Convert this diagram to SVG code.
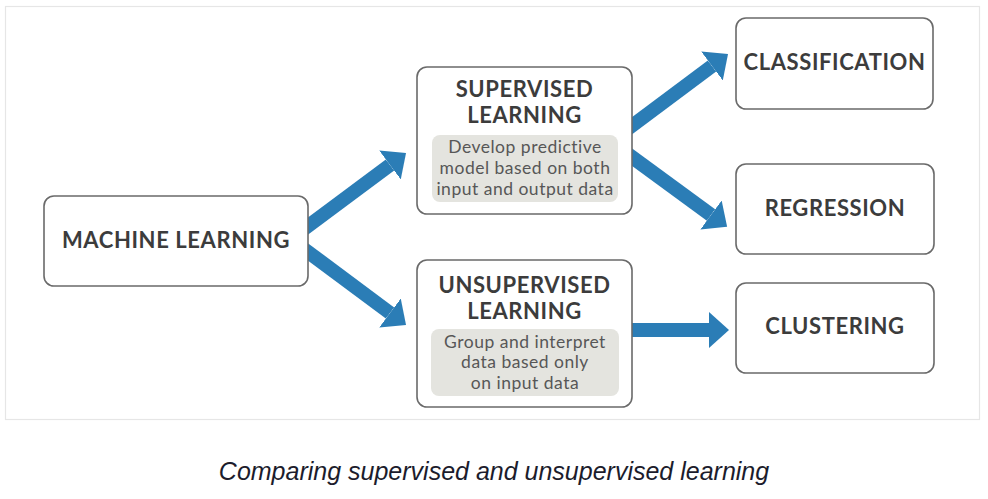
<svg xmlns="http://www.w3.org/2000/svg" width="988" height="499" viewBox="0 0 988 499">
  <defs>
    <marker id="ah" markerUnits="userSpaceOnUse" markerWidth="22" markerHeight="38" viewBox="0 -19 22 38" refX="0" refY="0" orient="auto">
      <path d="M0,-18 L20,0 L0,18 Z" fill="#2b7db6"/>
    </marker>
    <style>
      .box { fill: #ffffff; stroke: #6a6a6a; stroke-width: 1.6; }
      .sub { fill: #e4e4df; stroke: none; }
      .title { font-family: "Lato", "Liberation Sans", sans-serif; font-weight: 700; font-size: 22px; letter-spacing: 0.6px; fill: #3c3c3c; text-anchor: middle; }
      .desc { font-family: "Lato", "Liberation Sans", sans-serif; font-size: 17.5px; letter-spacing: 0.5px; fill: #575757; text-anchor: middle; }
      .conn { stroke: #2b7db6; stroke-width: 14; fill: none; marker-end: url(#ah); }
      .cap { font-family: "Liberation Sans", "Arial", sans-serif; font-style: italic; font-size: 25px; fill: #1c1c2c; text-anchor: middle; }
    </style>
  </defs>
  <rect x="0" y="0" width="988" height="499" fill="#ffffff"/>
  <rect x="5.5" y="6.5" width="974" height="413" fill="#ffffff" stroke="#e6e6e6" stroke-width="1.2"/>

  <g id="connectors">
    <line class="conn" x1="300" y1="232" x2="390" y2="165"/>
    <line class="conn" x1="300" y1="246" x2="390" y2="313"/>
    <line class="conn" x1="625" y1="131" x2="712" y2="66"/>
    <line class="conn" x1="625" y1="152" x2="711" y2="215"/>
    <line class="conn" x1="625" y1="330" x2="709" y2="330"/>
  </g>

  <g id="machine-learning">
    <rect class="box" x="44" y="196" width="264" height="90" rx="10"/>
    <text class="title" x="176" y="248">MACHINE LEARNING</text>
  </g>

  <g id="supervised">
    <rect class="box" x="417" y="67" width="215" height="147" rx="10"/>
    <text class="title" x="524.5" y="97">SUPERVISED</text>
    <text class="title" x="524.5" y="123">LEARNING</text>
    <rect class="sub" x="432" y="135" width="186" height="67" rx="8"/>
    <text class="desc" x="525" y="153">Develop predictive</text>
    <text class="desc" x="525" y="174">model based on both</text>
    <text class="desc" x="525" y="195">input and output data</text>
  </g>

  <g id="unsupervised">
    <rect class="box" x="417" y="260" width="215" height="147" rx="10"/>
    <text class="title" x="524.5" y="293">UNSUPERVISED</text>
    <text class="title" x="524.5" y="319">LEARNING</text>
    <rect class="sub" x="431" y="329" width="188" height="67" rx="8"/>
    <text class="desc" x="525" y="348">Group and interpret</text>
    <text class="desc" x="525" y="368">data based only</text>
    <text class="desc" x="525" y="389">on input data</text>
  </g>

  <g id="classification">
    <rect class="box" x="736" y="18" width="197" height="91" rx="10"/>
    <text class="title" x="834.5" y="70">CLASSIFICATION</text>
  </g>

  <g id="regression">
    <rect class="box" x="736" y="164" width="198" height="90" rx="10"/>
    <text class="title" x="835" y="216">REGRESSION</text>
  </g>

  <g id="clustering">
    <rect class="box" x="736" y="283" width="198" height="90" rx="10"/>
    <text class="title" x="835" y="334">CLUSTERING</text>
  </g>

  <text class="cap" x="494" y="480">Comparing supervised and unsupervised learning</text>
</svg>
